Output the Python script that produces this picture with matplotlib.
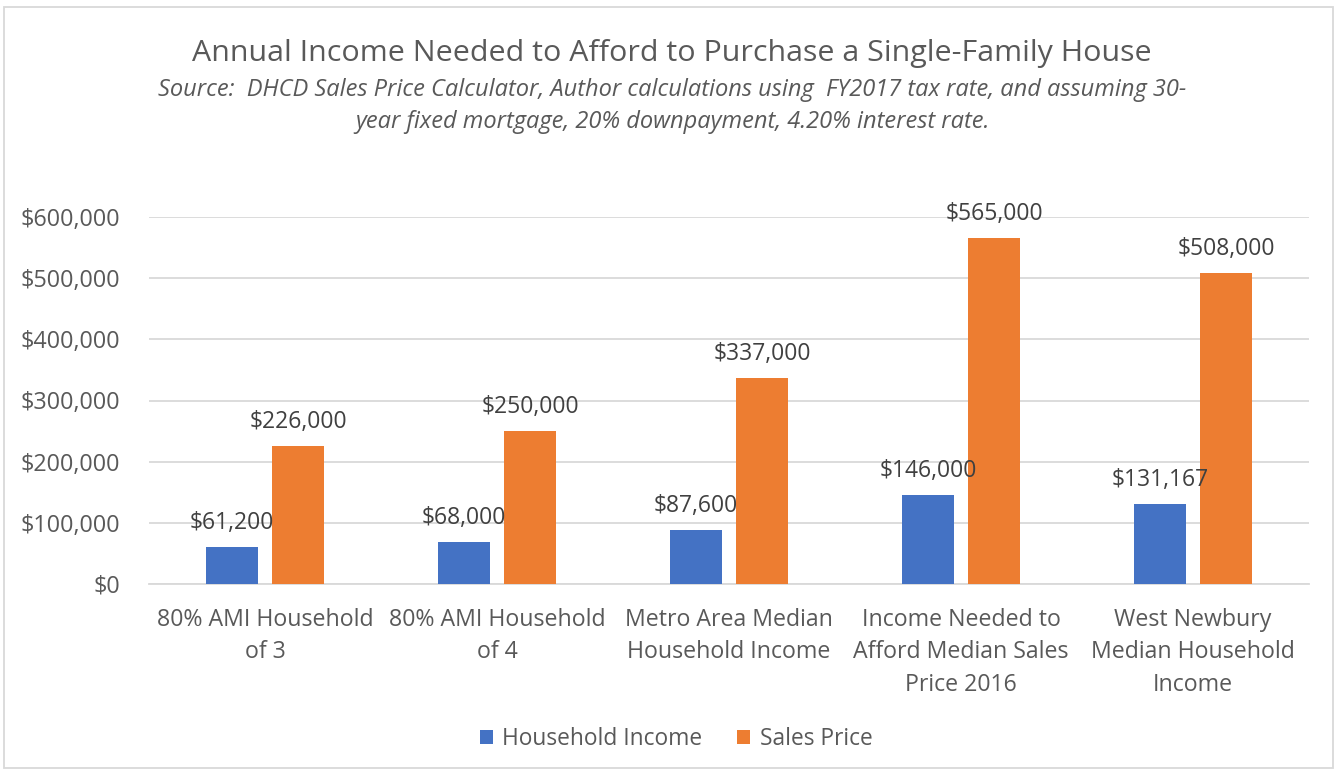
import numpy as np
import matplotlib
matplotlib.use('Agg')
import matplotlib.pyplot as plt
from matplotlib.patches import Rectangle
from matplotlib.ticker import FuncFormatter

categories = ['80% AMI Household\nof 3', '80% AMI Household\nof 4',
              'Metro Area Median\nHousehold Income',
              'Income Needed to\nAfford Median Sales\nPrice 2016',
              'West Newbury\nMedian Household\nIncome']
household_income = [61200, 68000, 87600, 146000, 131167]
sales_price = [226000, 250000, 337000, 565000, 508000]
series_names = ['Household Income', 'Sales Price']

BLUE = '#4472C4'
ORANGE = '#ED7D31'
TEXT = '#595959'
GRID = '#D9D9D9'

plt.rcParams['font.family'] = ['Open Sans', 'DejaVu Sans']


def money(v, pos=None):
    return f'${v:,.0f}'


def main() -> None:
    fig = plt.figure(figsize=(13.38, 7.73), dpi=100)
    ax = fig.add_axes([149 / 1338, 1 - 584 / 773, 1160 / 1338, (584 - 217) / 773])

    x = np.arange(len(categories))
    w = 0.224
    off = 0.142
    b1 = ax.bar(x - off, household_income, w, color=BLUE, label=series_names[0], zorder=3)
    b2 = ax.bar(x + off, sales_price, w, color=ORANGE, label=series_names[1], zorder=3)

    for bars, vals in ((b1, household_income), (b2, sales_price)):
        for rect, v in zip(bars, vals):
            ax.annotate(money(v), (rect.get_x() + rect.get_width() / 2, v),
                        xytext=(0, 13), textcoords='offset points',
                        ha='center', va='baseline', fontsize=16.5, color='#404040',
                        annotation_clip=False, zorder=4)

    ax.set_xlim(-0.5, len(categories) - 0.5)
    ax.set_ylim(0, 600000)
    ax.set_yticks(np.arange(0, 600001, 100000))
    ax.yaxis.set_major_formatter(FuncFormatter(money))
    ax.set_xticks(x)
    ax.set_xticklabels(categories, linespacing=1.48)
    ax.tick_params(axis='y', length=0, pad=21, labelsize=16.8, labelcolor=TEXT)
    ax.tick_params(axis='x', length=0, pad=17, labelsize=16.7, labelcolor=TEXT)
    ax.grid(axis='y', color=GRID, linewidth=1.3, zorder=0)
    for s in ['top', 'right', 'left']:
        ax.spines[s].set_visible(False)
    ax.spines['bottom'].set_color(GRID)
    ax.spines['bottom'].set_linewidth(1.3)

    fig.text(672 / 1338, 1 - 53 / 773, 'Annual Income Needed to Afford to Purchase a Single-Family House',
             ha='center', va='center', fontsize=21.9, color=TEXT)
    fig.text(672 / 1338, 1 - 106 / 773,
             'Source:  DHCD Sales Price Calculator, Author calculations using  FY2017 tax rate, and assuming 30-\n'
             'year fixed mortgage, 20% downpayment, 4.20% interest rate.',
             ha='center', va='center', fontsize=17, style='italic', color=TEXT,
             multialignment='center', linespacing=1.42)

    fig.legend(loc='center', bbox_to_anchor=(676 / 1338, 1 - 739 / 773), ncol=2,
               frameon=False, fontsize=16.4, handlelength=0.6, handleheight=0.6,
               handletextpad=0.4, columnspacing=1.5, labelcolor=TEXT)

    fig.patches.append(Rectangle((4 / 1338, 5 / 773), 1329 / 1338, 761 / 773,
                                 transform=fig.transFigure, fill=False,
                                 edgecolor=GRID, linewidth=1.3))

    fig.savefig('out.png', dpi=100, facecolor='white')


if __name__ == '__main__':
    main()
